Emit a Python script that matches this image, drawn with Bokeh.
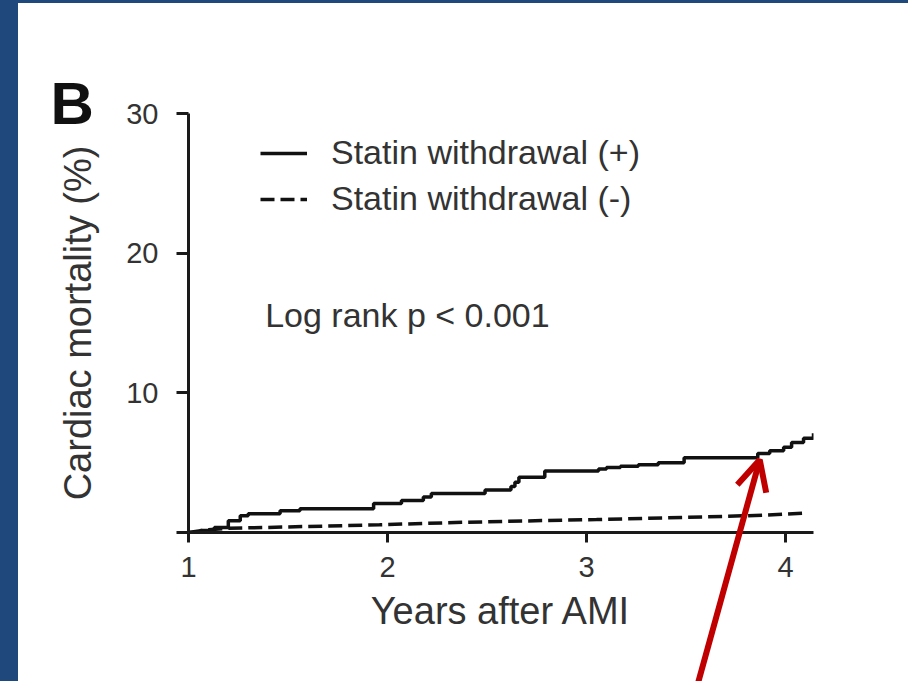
from bokeh.plotting import figure
from bokeh.models import (Range1d, FixedTicker, Legend, LegendItem, Label, Arrow,
                          OpenHead, Div)
from bokeh.layouts import row, column
from bokeh.embed import file_html
from bokeh.resources import INLINE

# ---- data ----
x_ticks = [1, 2, 3, 4]
y_ticks = [0, 10, 20, 30]
y_tick_labels = {0: "", 10: "10", 20: "20", 30: "30"}
x_min, x_max = 1.0, 4.14
y_min, y_max = 0.0, 30.0

# Statin withdrawal (+): cumulative cardiac mortality (%)
plus_years = [1.00, 1.06, 1.13, 1.20, 1.26, 1.30, 1.46, 1.56, 1.93, 2.07, 2.18,
              2.22, 2.49, 2.62, 2.64, 2.66, 2.79, 3.06, 3.10, 3.17, 3.26, 3.36,
              3.49, 3.86, 3.92, 3.99, 4.03, 4.09, 4.14]
plus_mort = [0.0, 0.15, 0.35, 0.85, 1.2, 1.35, 1.55, 1.7, 2.07, 2.3, 2.55,
             2.8, 3.05, 3.3, 3.6, 3.95, 4.4, 4.55, 4.65, 4.75, 4.85, 5.0,
             5.35, 5.65, 5.85, 6.1, 6.45, 6.75, 7.1]

# Statin withdrawal (-)
minus_years = [1.00, 1.10, 1.20, 1.50, 1.96, 2.30, 2.60, 3.05, 3.40, 3.70, 3.90, 4.11]
minus_mort = [0.0, 0.2, 0.3, 0.4, 0.55, 0.7, 0.8, 0.93, 1.05, 1.15, 1.25, 1.4]

series_labels = ["Statin withdrawal (+)", "Statin withdrawal (-)"]
pvalue_text = "Log rank p < 0.001"
pvalue_pos = (1.385, 15.6)
panel_letter = "B"
panel_letter_pos = (0.307, 30.75)
x_label = "Years after AMI"
y_label = "Cardiac mortality (%)"

# annotation arrow (tip points at the upturn of the (+) curve)
arrow_tip = (3.87, 5.2)
arrow_tail = (3.54, -11.8)

FONT = "Liberation Sans"
INK = "#111111"
TXT = "#333333"
BLUE = "#1F497D"
RED = "#C00000"

# ---- layout constants ----
PAGE_W, PAGE_H = 908, 681
TOP_BAND, LEFT_BAND = 3, 18
FIG_W, FIG_H = PAGE_W - LEFT_BAND, PAGE_H - TOP_BAND
B_LEFT, B_RIGHT, B_TOP, B_BOTTOM = 170, 95, 110, 149

p = figure(width=FIG_W, height=FIG_H, output_backend="svg", toolbar_location=None,
           x_range=Range1d(x_min, x_max), y_range=Range1d(y_min, y_max),
           min_border_left=B_LEFT, min_border_right=B_RIGHT,
           min_border_top=B_TOP, min_border_bottom=B_BOTTOM)
p.outline_line_color = None
p.grid.visible = False
p.background_fill_color = "white"
p.border_fill_color = "white"

for ax in (p.xaxis, p.yaxis):
    ax.axis_line_width = 3
    ax.axis_line_color = "#1a1a1a"
    ax.major_tick_line_width = 3
    ax.major_tick_line_color = "#1a1a1a"
    ax.major_tick_in = 0
    ax.minor_tick_in = 0
    ax.minor_tick_out = 0
    ax.major_label_text_font = FONT
    ax.major_label_text_font_size = "29px"
    ax.major_label_text_color = TXT
    ax.axis_label_text_font = FONT
    ax.axis_label_text_font_size = "38px"
    ax.axis_label_text_font_style = "normal"
    ax.axis_label_text_color = TXT

p.xaxis.ticker = FixedTicker(ticks=x_ticks)
p.xaxis.major_tick_out = 10
p.xaxis.major_label_standoff = 14
p.xaxis.axis_label = x_label
p.xaxis.axis_label_standoff = 10

p.yaxis.ticker = FixedTicker(ticks=y_ticks)
p.yaxis.major_label_overrides = y_tick_labels
p.yaxis.major_tick_out = 12
p.yaxis.major_label_standoff = 18
p.yaxis.axis_label = y_label
p.yaxis.axis_label_standoff = 24

r_plus = p.step(plus_years, plus_mort, mode="after", line_width=3.5,
                line_color=INK)
r_minus = p.line(minus_years, minus_mort, line_width=3.5, line_color=INK,
                 line_dash="14 6")

legend = Legend(items=[LegendItem(label=series_labels[0], renderers=[r_plus]),
                       LegendItem(label=series_labels[1], renderers=[r_minus])],
                location=(72, 314), padding=0, margin=0,
                border_line_color=None, background_fill_alpha=0,
                glyph_width=47, glyph_height=20, label_standoff=24, spacing=7,
                label_text_font=FONT, label_text_font_size="34px",
                label_text_color=TXT)
p.add_layout(legend)

p.add_layout(Label(x=pvalue_pos[0], y=pvalue_pos[1], text=pvalue_text,
                   text_font=FONT, text_font_size="34px", text_color=TXT,
                   text_baseline="middle"))

# ---- transparent overlay with the same data mapping, covering the whole canvas ----
frame_w = FIG_W - B_LEFT - B_RIGHT
frame_h = FIG_H - B_TOP - B_BOTTOM
kx = (x_max - x_min) / frame_w
ky = (y_max - y_min) / frame_h
ov = figure(width=FIG_W, height=FIG_H, output_backend="svg", toolbar_location=None,
            x_range=Range1d(x_min - B_LEFT * kx, x_max + B_RIGHT * kx),
            y_range=Range1d(y_min - B_BOTTOM * ky, y_max + B_TOP * ky),
            x_axis_type=None, y_axis_type=None, min_border=0,
            margin=(-FIG_H, 0, 0, LEFT_BAND))
ov.title.visible = False
ov.outline_line_color = None
ov.grid.visible = False
ov.background_fill_alpha = 0
ov.border_fill_alpha = 0

ov.add_layout(Label(x=panel_letter_pos[0], y=panel_letter_pos[1], text=panel_letter,
                    text_font=FONT, text_font_size="60px", text_font_style="bold",
                    text_color=INK, text_baseline="middle"))
ov.add_layout(Arrow(x_start=arrow_tail[0], y_start=arrow_tail[1],
                    x_end=arrow_tip[0], y_end=arrow_tip[1],
                    line_color=RED, line_width=6,
                    end=OpenHead(size=30, line_color=RED, line_width=6)))

top = Div(width=PAGE_W, height=TOP_BAND, margin=0,
          styles={"background-color": BLUE})
strip = Div(width=LEFT_BAND, height=FIG_H, margin=0,
            styles={"background-color": BLUE})
layout = column(top, row(strip, p, spacing=0), ov, spacing=0)

open("out.html", "w").write(file_html(layout, INLINE))
